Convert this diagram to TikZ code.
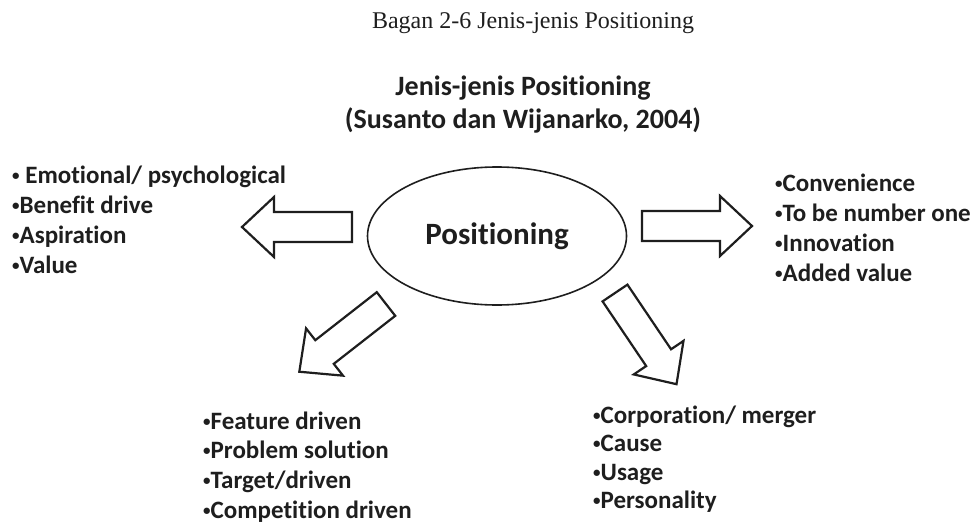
\documentclass[tikz,border=0pt]{standalone}
\usepackage{fontspec}
\setmainfont{Carlito}[Ligatures=NoCommon]
\newfontfamily\captionfont{Liberation Serif}
\usetikzlibrary{calc,shapes.geometric}

\definecolor{inkblack}{HTML}{1E1E1E}
\newcommand{\blt}{\raisebox{0.12em}{\scalebox{0.6}{•}}}

\tikzset{
    blockarrow/.pic={
        \draw[line width=2.2pt, line join=miter, draw=inkblack, fill=white]
            (0pt,-15pt) -- (78pt,-15pt) -- (78pt,-30pt) -- (110pt,0pt)
            -- (78pt,30pt) -- (78pt,15pt) -- (0pt,15pt) -- cycle;
    },
    itemlist/.style={align=left, inner sep=0pt, anchor=west, text=inkblack,
        font=\fontsize{25}{30}\selectfont\bfseries},
}

\begin{document}
\begin{tikzpicture}[x=1pt, y=1pt]
    \useasboundingbox (0,0) rectangle (976,523);

    % captions
    \node[text=inkblack, font=\captionfont\fontsize{24}{28}\selectfont] (caption) at (533,500)
        {Bagan 2-6 Jenis-jenis Positioning};
    \node[align=center, text=inkblack, font=\fontsize{28}{33}\selectfont\bfseries] (title) at (523,418)
        {Jenis-jenis Positioning\\(Susanto dan Wijanarko, 2004)};

    % centre
    \node[ellipse, draw=inkblack, line width=1.6pt, minimum width=259pt, minimum height=138pt,
        inner sep=0pt, text=inkblack, font=\fontsize{31}{36}\selectfont\bfseries] (pos) at (497,287)
        {Positioning};

    % arrows
    \coordinate (arr-l) at ($(pos.center)+(-145,9)$);
    \coordinate (arr-r) at ($(pos.center)+(145,10)$);
    \coordinate (arr-bl) at ($(pos.center)+(-111,-68)$);
    \coordinate (arr-br) at ($(pos.center)+(118,-57)$);
    \pic[rotate=180] at (arr-l) {blockarrow};
    \pic at (arr-r) {blockarrow};
    \pic[rotate=218] at (arr-bl) {blockarrow};
    \pic[rotate=-56] at (arr-br) {blockarrow};

    % lists
    \node[itemlist] (list-l) at (12,303)
        {\blt{} Emotional/ psychological\\\blt Benefit drive\\\blt Aspiration\\\blt Value};
    \node[itemlist] (list-r) at (775,295)
        {\blt Convenience\\\blt To be number one\\\blt Innovation\\\blt Added value};
    \node[itemlist, font=\fontsize{25}{29.7}\selectfont\bfseries] (list-bl) at (203,56)
        {\blt Feature driven\\\blt Problem solution\\\blt Target/driven\\\blt Competition driven};
    \node[itemlist, font=\fontsize{25}{28.5}\selectfont\bfseries] (list-br) at (593,64)
        {\blt Corporation/ merger\\\blt Cause\\\blt Usage\\\blt Personality};
\end{tikzpicture}
\end{document}
